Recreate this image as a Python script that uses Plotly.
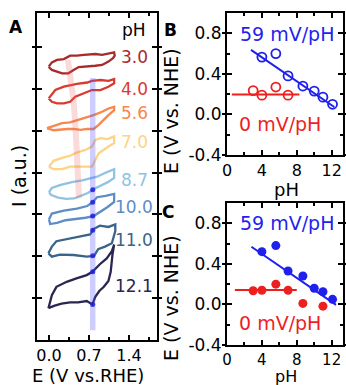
import plotly.graph_objects as go

FONT = "DejaVu Sans, Liberation Sans, Arial, sans-serif"

# ---------------- Panel A: cyclic voltammograms at different pH ----------------
# Potential E (V vs. RHE) and offset current I (a.u.) for each closed CV loop
e_ph30 = [-0.005, 0.05, 0.14, 0.26, 0.37, 0.49, 0.61, 0.72, 0.81, 0.93, 1.04, 1.14, 1.15,
          1.12, 1.04, 0.93, 0.81, 0.67, 0.52, 0.43, 0.34, 0.23, 0.14, 0.05, -0.005]
i_ph30 = [5.53, 5.63, 5.69, 5.71, 5.79, 5.79, 5.81, 5.83, 5.83, 5.81, 5.85, 5.87, 5.79,
          5.73, 5.65, 5.57, 5.55, 5.53, 5.52, 5.45, 5.37, 5.37, 5.41, 5.45, 5.52]

e_ph40 = [-0.005, 0.11, 0.26, 0.49, 0.67, 0.75, 0.90, 1.04, 1.14, 1.14,
          1.04, 0.90, 0.75, 0.61, 0.46, 0.37, 0.26, 0.14, 0.05, -0.005]
i_ph40 = [4.77, 4.97, 5.05, 5.12, 5.15, 5.19, 5.21, 5.19, 5.23, 5.13,
          5.05, 4.97, 4.97, 4.89, 4.81, 4.69, 4.65, 4.65, 4.69, 4.77]

e_ph56 = [-0.035, 0.08, 0.23, 0.37, 0.52, 0.67, 0.78, 0.93, 1.04, 1.14, 1.14,
          1.04, 0.96, 0.87, 0.78, 0.67, 0.55, 0.43, 0.32, 0.20, 0.08, -0.035]
i_ph56 = [4.06, 4.12, 4.18, 4.20, 4.26, 4.31, 4.37, 4.45, 4.53, 4.57, 4.49,
          4.37, 4.26, 4.14, 4.04, 4.04, 4.02, 4.04, 4.04, 4.02, 4.01, 4.06]

e_ph70 = [0.0, 0.08, 0.23, 0.37, 0.49, 0.64, 0.75, 0.81, 0.90, 1.02, 1.14, 1.14,
          1.04, 0.96, 0.87, 0.81, 0.75, 0.67, 0.52, 0.37, 0.23, 0.08, 0.0]
i_ph70 = [3.14, 3.28, 3.35, 3.40, 3.48, 3.54, 3.62, 3.78, 3.82, 3.80, 3.86, 3.70,
          3.62, 3.54, 3.46, 3.30, 3.14, 3.14, 3.14, 3.14, 3.08, 3.08, 3.14]

e_ph87 = [0.0, 0.05, 0.19, 0.40, 0.58, 0.72, 0.84, 0.98, 1.14, 1.14,
          1.03, 0.91, 0.79, 0.68, 0.56, 0.44, 0.30, 0.16, 0.04, 0.0]
i_ph87 = [2.53, 2.63, 2.70, 2.77, 2.81, 2.86, 2.90, 2.99, 3.08, 2.87,
          2.77, 2.69, 2.61, 2.51, 2.44, 2.38, 2.37, 2.40, 2.46, 2.53]

e_ph100 = [0.0, 0.05, 0.26, 0.49, 0.67, 0.77, 0.84, 0.99, 1.14, 1.14,
           1.02, 0.90, 0.78, 0.64, 0.46, 0.29, 0.14, 0.02, 0.0]
i_ph100 = [1.88, 2.02, 2.09, 2.14, 2.20, 2.30, 2.41, 2.44, 2.49, 2.30,
           2.17, 2.06, 1.96, 1.92, 1.89, 1.86, 1.80, 1.77, 1.88]

e_ph110 = [-0.01, 0.05, 0.13, 0.31, 0.54, 0.72, 0.78, 0.89, 1.04, 1.16, 1.16,
           1.10, 0.98, 0.86, 0.79, 0.66, 0.43, 0.19, 0.05, -0.01]
i_ph110 = [1.07, 1.23, 1.36, 1.41, 1.47, 1.52, 1.65, 1.73, 1.70, 1.76, 1.60,
           1.31, 1.23, 1.17, 1.01, 0.99, 1.03, 1.04, 0.99, 1.07]

e_ph121 = [-0.01, 0.05, 0.13, 0.31, 0.48, 0.66, 0.76, 0.89, 1.01, 1.10, 1.14,
           1.11, 1.08, 1.04, 0.96, 0.88, 0.81, 0.76,
           0.66, 0.51, 0.37, 0.22, 0.10, 0.02, -0.01]
i_ph121 = [-0.24, 0.07, 0.27, 0.39, 0.47, 0.55, 0.63, 0.81, 0.95, 1.12, 1.28,
           1.03, 0.63, 0.41, 0.27, 0.17, 0.03, -0.15,
           -0.07, -0.10, -0.10, -0.13, -0.18, -0.23, -0.24]

ph_labels = ["3.0", "4.0", "5.6", "7.0", "8.7", "10.0", "11.0", "12.1"]
ph_colors = ["#a82a2a", "#d93a30", "#f7864f", "#fdd384",
             "#8fc3e2", "#5e8dc6", "#3a6489", "#2a2652"]
label_I = [5.76, 5.00, 4.42, 3.73, 2.82, 2.18, 1.39, 0.29]
label_E = 1.49

cv_E = [e_ph30, e_ph40, e_ph56, e_ph70, e_ph87, e_ph100, e_ph110, e_ph121]
cv_I = [i_ph30, i_ph40, i_ph56, i_ph70, i_ph87, i_ph100, i_ph110, i_ph121]

# pH-dependent peak (pink) and pH-independent peak (blue) guides
shift_E = [0.33, 0.43, 0.47, 0.51, 0.525]
shift_I = [5.69, 4.73, 3.94, 3.13, 2.39]
fixed_E = [0.765, 0.765]
fixed_I = [5.26, -0.77]
peak_E = [0.765, 0.765, 0.765, 0.765, 0.765, 0.765, 0.765]
peak_I = [2.59, 2.29, 1.96, 1.62, 1.01, 0.63, -0.15]

# ---------------- Panels B and C: peak potential vs pH ----------------
b_blue_ph = [4.0, 5.6, 7.0, 8.7, 10.0, 11.0, 12.1]
b_blue_E = [0.565, 0.60, 0.38, 0.28, 0.23, 0.17, 0.10]
b_red_ph = [3.0, 4.0, 5.6, 7.0]
b_red_E = [0.235, 0.19, 0.27, 0.19]
b_blue_fit_ph = [2.75, 12.3]
b_blue_fit_E = [0.637, 0.073]
b_red_fit_ph = [0.55, 8.3]
b_red_fit_E = [0.197, 0.197]

c_blue_ph = [4.0, 5.6, 7.0, 8.7, 10.0, 11.0, 12.1]
c_blue_E = [0.52, 0.58, 0.33, 0.28, 0.16, 0.125, 0.05]
c_red_ph = [3.0, 4.0, 5.6, 7.0, 8.7, 11.0]
c_red_E = [0.135, 0.14, 0.20, 0.14, 0.01, -0.017]
c_blue_fit_ph = [2.8, 12.5]
c_blue_fit_E = [0.569, -0.004]
c_red_fit_ph = [0.9, 8.0]
c_red_fit_E = [0.142, 0.142]

a_ticks_I = [0, 1, 2, 3, 4, 5, 6]
bc_ticks_E = [-0.4, 0, 0.4, 0.8]
bc_ticktext = ["-0.4", "0.0", "0.4", "0.8"]

BLUE = "#1f1fee"
RED = "#ee1f1f"

fig = go.Figure()

for e, i, col in zip(cv_E, cv_I, ph_colors):
    fig.add_trace(go.Scatter(x=e, y=i, mode="lines", line=dict(color=col, width=2.3),
                             xaxis="x", yaxis="y", hoverinfo="skip"))

fig.add_trace(go.Scatter(x=shift_E, y=shift_I, mode="lines",
                         line=dict(color="rgba(240,100,100,0.24)", width=6),
                         xaxis="x", yaxis="y"))
fig.add_trace(go.Scatter(x=fixed_E, y=fixed_I, mode="lines",
                         line=dict(color="rgba(90,90,255,0.30)", width=5.5),
                         xaxis="x", yaxis="y"))
fig.add_trace(go.Scatter(x=peak_E, y=peak_I, mode="markers",
                         marker=dict(color="rgba(30,30,220,0.85)", size=5),
                         xaxis="x", yaxis="y"))

# Panel B (open symbols)
fig.add_trace(go.Scatter(x=b_blue_fit_ph, y=b_blue_fit_E, mode="lines",
                         line=dict(color=BLUE, width=2), xaxis="x2", yaxis="y2"))
fig.add_trace(go.Scatter(x=b_red_fit_ph, y=b_red_fit_E, mode="lines",
                         line=dict(color=RED, width=2), xaxis="x2", yaxis="y2"))
fig.add_trace(go.Scatter(x=b_blue_ph, y=b_blue_E, mode="markers",
                         marker=dict(symbol="circle-open", size=9, color=BLUE,
                                     line=dict(width=1.8)),
                         xaxis="x2", yaxis="y2"))
fig.add_trace(go.Scatter(x=b_red_ph, y=b_red_E, mode="markers",
                         marker=dict(symbol="circle-open", size=9, color=RED,
                                     line=dict(width=1.8)),
                         xaxis="x2", yaxis="y2"))

# Panel C (filled symbols)
fig.add_trace(go.Scatter(x=c_blue_fit_ph, y=c_blue_fit_E, mode="lines",
                         line=dict(color=BLUE, width=2), xaxis="x3", yaxis="y3"))
fig.add_trace(go.Scatter(x=c_red_fit_ph, y=c_red_fit_E, mode="lines",
                         line=dict(color=RED, width=2), xaxis="x3", yaxis="y3"))
fig.add_trace(go.Scatter(x=c_blue_ph, y=c_blue_E, mode="markers",
                         marker=dict(symbol="circle", size=9, color=BLUE),
                         xaxis="x3", yaxis="y3"))
fig.add_trace(go.Scatter(x=c_red_ph, y=c_red_E, mode="markers",
                         marker=dict(symbol="circle", size=9, color=RED),
                         xaxis="x3", yaxis="y3"))

# empty traces that attach the outward tick overlays (crossing y ticks)
for xa, ya in (("x", "y4"), ("x2", "y5"), ("x3", "y6")):
    fig.add_trace(go.Scatter(x=[], y=[], xaxis=xa, yaxis=ya, hoverinfo="skip"))

W, H = 346, 385


def px_x(p):
    return p / W


def px_y(p):
    return (H - p) / H


def axis_style(**kw):
    base = dict(showline=True, linewidth=2, linecolor="black", mirror="ticks",
                ticks="inside", ticklen=5, tickwidth=1.5, tickcolor="black",
                showgrid=False, zeroline=False, automargin=False,
                tickfont=dict(family=FONT, size=17, color="black"))
    base.update(kw)
    return base


def out_ticks(over, anchor, rng, vals):
    return dict(overlaying=over, anchor=anchor, range=rng, tickvals=vals,
                showticklabels=False, showline=False, mirror="ticks",
                ticks="outside", ticklen=4, tickwidth=1.5, tickcolor="black",
                showgrid=False, zeroline=False, automargin=False, side="left")


minor_in = dict(ticks="inside", ticklen=3, tickwidth=1.5, tickcolor="black")
xtick_font = dict(family=FONT, size=16, color="black")

fig.update_layout(
    width=W, height=H,
    margin=dict(l=0, r=0, t=0, b=0, pad=0, autoexpand=False),
    paper_bgcolor="white", plot_bgcolor="white",
    showlegend=False,
    font=dict(family=FONT, color="black"),
    xaxis=axis_style(domain=[px_x(37), px_x(157)], range=[-0.21, 1.89],
                     tickvals=[0, 0.7, 1.4], ticktext=["0.0", "0.7", "1.4"],
                     minor=dict(tickvals=[0.35, 1.05, 1.75], **minor_in),
                     tickfont=xtick_font, anchor="y"),
    yaxis=axis_style(domain=[px_y(340), px_y(13)], range=[-1.0, 6.81],
                     tickvals=a_ticks_I, showticklabels=False, anchor="x"),
    xaxis2=axis_style(domain=[px_x(227), px_x(343)], range=[0, 13.3],
                      tickvals=[0, 4, 8, 12], tickfont=xtick_font,
                      minor=dict(tickvals=[2, 6, 10], **minor_in), anchor="y2"),
    yaxis2=axis_style(domain=[px_y(155), px_y(13)], range=[-0.4, 1.0],
                      tickvals=bc_ticks_E, ticktext=bc_ticktext,
                      minor=dict(tickvals=[-0.2, 0.2, 0.6], **minor_in), anchor="x2"),
    xaxis3=axis_style(domain=[px_x(227), px_x(343)], range=[0, 13.3],
                      tickvals=[0, 4, 8, 12],
                      tickfont=dict(family=FONT, size=15, color="black"),
                      minor=dict(tickvals=[2, 6, 10], **minor_in), anchor="y3"),
    yaxis3=axis_style(domain=[px_y(345), px_y(203)], range=[-0.4, 1.0],
                      tickvals=bc_ticks_E, ticktext=bc_ticktext,
                      minor=dict(tickvals=[-0.2, 0.2, 0.6], **minor_in), anchor="x3"),
    yaxis4=out_ticks("y", "x", [-1.0, 6.81], a_ticks_I),
    yaxis5=out_ticks("y2", "x2", [-0.4, 1.0], bc_ticks_E),
    yaxis6=out_ticks("y3", "x3", [-0.4, 1.0], bc_ticks_E),
)

CENTER = dict(xanchor="center", yanchor="middle", showarrow=False)

ann = []
# pH labels next to each CV
ann.append(dict(x=label_E, y=6.41, xref="x", yref="y", text="pH",
                font=dict(family=FONT, size=17, color="black"), **CENTER))
for lab, li, col in zip(ph_labels, label_I, ph_colors):
    ann.append(dict(x=label_E, y=li, xref="x", yref="y", text=lab,
                    font=dict(family=FONT, size=17, color=col), **CENTER))

# slope labels
for xr, yr, y59, y0 in (("x2", "y2", 0.795, -0.094), ("x3", "y3", 0.80, -0.186)):
    ann.append(dict(x=6.86, y=y59, xref=xr, yref=yr, text="59 mV/pH",
                    font=dict(family=FONT, size=19, color=BLUE), **CENTER))
    ann.append(dict(x=6.06, y=y0, xref=xr, yref=yr, text="0 mV/pH",
                    font=dict(family=FONT, size=19, color=RED), **CENTER))

# panel letters
for txt, x, y in (("A", 16, 27), ("B", 170, 30), ("C", 168, 212)):
    ann.append(dict(x=px_x(x), y=px_y(y), xref="paper", yref="paper", text="<b>%s</b>" % txt,
                    font=dict(family=FONT, size=17, color="black"), **CENTER))

# axis titles
ann.append(dict(x=px_x(88), y=px_y(375), xref="paper", yref="paper", text="E (V vs.RHE)",
                font=dict(family=FONT, size=18, color="black"), **CENTER))
ann.append(dict(x=px_x(19), y=px_y(176), xref="paper", yref="paper", text="I (a.u.)",
                textangle=-90, font=dict(family=FONT, size=19, color="black"), **CENTER))
ann.append(dict(x=px_x(286), y=px_y(189), xref="paper", yref="paper", text="pH",
                font=dict(family=FONT, size=18, color="black"), **CENTER))
ann.append(dict(x=px_x(286), y=px_y(376), xref="paper", yref="paper", text="pH",
                font=dict(family=FONT, size=16, color="black"), **CENTER))
ann.append(dict(x=px_x(171), y=px_y(111), xref="paper", yref="paper", text="E (V vs. NHE)",
                textangle=-90, font=dict(family=FONT, size=19, color="black"), **CENTER))
ann.append(dict(x=px_x(171), y=px_y(298), xref="paper", yref="paper", text="E (V vs. NHE)",
                textangle=-90, font=dict(family=FONT, size=19, color="black"), **CENTER))

fig.update_layout(annotations=ann)

fig.write_html("out.html")
